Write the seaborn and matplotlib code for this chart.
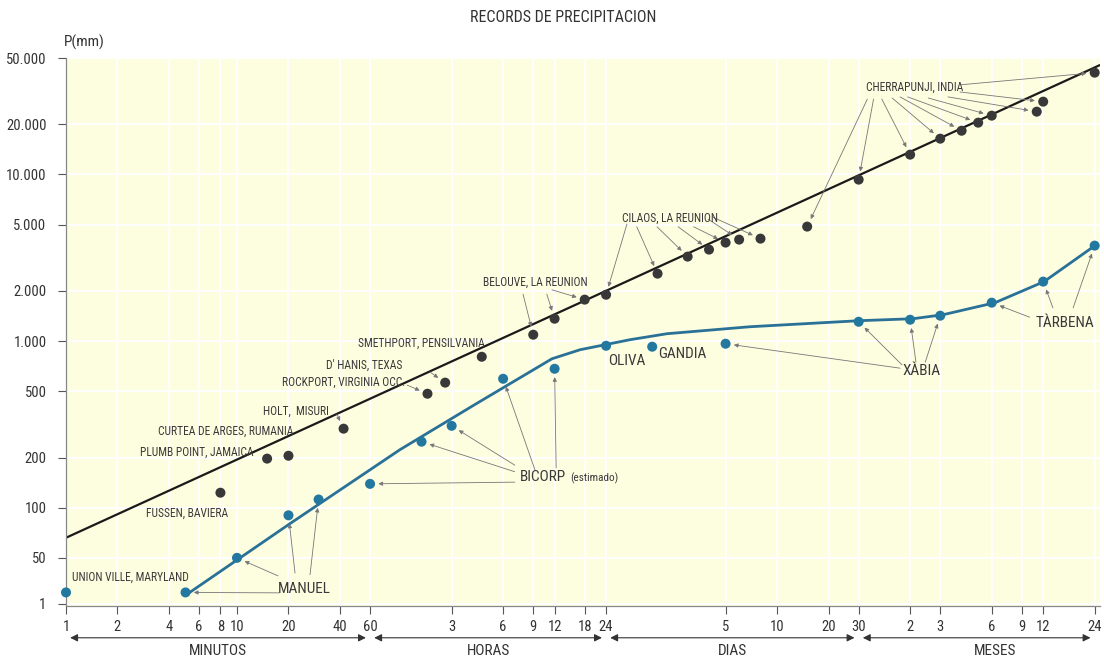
import matplotlib
matplotlib.use('Agg')
import matplotlib.pyplot as plt
import pandas as pd
import seaborn as sns

# duration in minutes, precipitation in mm
world_min = [8, 15, 20, 42, 130, 165, 270, 540, 720, 1080, 1440,
             2880, 4320, 5760, 7200, 8640, 11520, 21600,
             43200, 86400, 129600, 172800, 216000, 259200, 475200, 518400, 1036800]
world_mm = [123, 197, 205, 298, 483, 563, 805, 1092, 1362, 1773, 1897,
            2539, 3214, 3540, 3900, 4064, 4120, 4865,
            9310, 13150, 16400, 18300, 20460, 22540, 23820, 27350, 40830]

# Union Ville + records of the region (blue)
local_min = [1, 5, 10, 20, 30, 60, 120, 180, 360, 720, 1440, 2680, 7200,
             43200, 86400, 129600, 259200, 518400, 1036800]
local_mm = [31, 31, 50, 90, 112, 139, 249, 310, 594, 682, 937, 925, 964,
            1306, 1343, 1420, 1700, 2275, 3740]

# envelope of the local records
curve_min = [5.17, 20.4, 89.8, 250, 695, 1014, 1987, 3270, 10000, 43350,
             89800, 134500, 271000, 524000, 1040000]
curve_mm = [30.5, 80.2, 223, 420, 783, 887, 1019, 1107, 1219, 1325,
            1362, 1439, 1700, 2273, 3740]

# world envelope line
trend_min = [1, 1110000]
trend_mm = [66, 45300]

x_ticks = [1, 2, 4, 6, 8, 10, 20, 40, 60, 180, 360, 540, 720, 1080, 1440,
           7200, 14400, 28800, 43200, 86400, 129600, 259200, 388800, 518400, 1036800]
x_labels = ['1', '2', '4', '6', '8', '10', '20', '40', '60', '3', '6', '9', '12', '18', '24',
            '5', '10', '20', '30', '2', '3', '6', '9', '12', '24']
y_ticks = [26.5, 50, 100, 200, 500, 1000, 2000, 5000, 10000, 20000, 50000]
y_labels = ['1', '50', '100', '200', '500', '1.000', '2.000', '5.000', '10.000', '20.000', '50.000']

periods = ['MINUTOS', 'HORAS', 'DIAS', 'MESES']
period_edges = [1, 60, 1440, 43200, 1036800]
period_label_x = [7.75, 294, 7900, 271000]

world = pd.DataFrame({'min': world_min, 'mm': world_mm})
local = pd.DataFrame({'min': local_min, 'mm': local_mm})
curve = pd.DataFrame({'min': curve_min, 'mm': curve_mm})
trend = pd.DataFrame({'min': trend_min, 'mm': trend_mm})

sns.set_theme(style='ticks')
plt.rcParams['font.family'] = ['Roboto Condensed', 'DejaVu Sans']
plt.rcParams['font.stretch'] = 'condensed'

BLUE = '#22789f'
DARK = '#383838'
TXT = '#3a3a3a'
SMALL = 8.3
BIG = 11

fig = plt.figure(figsize=(11.04, 6.61), dpi=100)
ax = fig.add_axes([66 / 1104, 55 / 661, 1034 / 1104, 548 / 661])
ax.set_facecolor('#fdfde0')
ax.set_xscale('log')
ax.set_yscale('log')
ax.set_xlim(1, 1114000)
ax.set_ylim(25.7, 50000)

sns.lineplot(data=trend, x='min', y='mm', ax=ax, color='#1a1a1a', lw=1.6,
             sort=False, estimator=None)
sns.lineplot(data=curve, x='min', y='mm', ax=ax, color='#2a7197', lw=2.0,
             sort=False, estimator=None)
sns.scatterplot(data=world, x='min', y='mm', ax=ax, color=DARK, s=52,
                edgecolor='none', zorder=5, clip_on=False)
sns.scatterplot(data=local, x='min', y='mm', ax=ax, color=BLUE, s=52,
                edgecolor='none', zorder=5, clip_on=False)

ax.set_xticks(x_ticks)
ax.set_xticklabels(x_labels)
ax.set_yticks(y_ticks)
ax.set_yticklabels(y_labels)
ax.minorticks_off()
ax.tick_params(axis='both', labelsize=10.5, colors='#555', labelcolor='#333',
               length=6, width=0.8)
ax.tick_params(axis='x', pad=4)
ax.tick_params(axis='y', pad=8)
ax.grid(True, color='white', lw=1.4)
ax.set_xlabel('')
ax.set_ylabel('')
sns.despine(ax=ax)
for s in ['left', 'bottom']:
    ax.spines[s].set_color('#888')
    ax.spines[s].set_linewidth(0.9)

fig.text(0.5105, 0.973, 'RECORDS DE PRECIPITACION', ha='center', va='center',
         fontsize=11.5, color='#333')
fig.text(0.058, 0.936, 'P(mm)', ha='left', va='center', fontsize=11, color='#333')

# period arrows under the axis
xt = ax.get_xaxis_transform()
for name, a, b, lx in zip(periods, period_edges[:-1], period_edges[1:], period_label_x):
    ax.annotate('', xy=(b, -0.058), xytext=(a, -0.058), xycoords=xt, textcoords=xt,
                annotation_clip=False,
                arrowprops=dict(arrowstyle='<|-|>', color='#333', lw=0.8,
                                mutation_scale=11, shrinkA=3, shrinkB=3))
    ax.text(lx, -0.083, name, transform=xt, ha='center', va='center',
            fontsize=11, color='#333')

# labels with pointers: text, x, y, size, [(start x, start y, series, index)]
notes = [
    ('UNION VILLE, MARYLAND', 0.006, 0.053, SMALL, []),
    ('FUSSEN, BAVIERA', 0.077, 0.170, SMALL, []),
    ('PLUMB POINT, JAMAICA', 0.0716, 0.281, SMALL, []),
    ('CURTEA DE ARGES, RUMANIA', 0.089, 0.318, SMALL, []),
    ('HOLT,  MISURI', 0.1905, 0.356, SMALL, [(0.262, 0.350, 'w', 3)]),
    ('ROCKPORT, VIRGINIA OCC.', 0.209, 0.409, SMALL, [(0.330, 0.403, 'w', 4)]),
    ("D' HANIS, TEXAS", 0.2515, 0.440, SMALL, [(0.352, 0.427, 'w', 5)]),
    ('SMETHPORT, PENSILVANIA', 0.2824, 0.480, SMALL, []),
    ('BELOUVE, LA REUNION', 0.403, 0.591, SMALL,
     [(0.442, 0.569, 'w', 7), (0.465, 0.569, 'w', 8), (0.470, 0.577, 'w', 9)]),
    ('CILAOS, LA REUNION', 0.538, 0.708, SMALL,
     [(0.5425, 0.697, 'w', 10), (0.552, 0.692, 'w', 11), (0.5716, 0.692, 'w', 12),
      (0.592, 0.692, 'w', 13), (0.607, 0.692, 'w', 14), (0.621, 0.706, 'w', 15),
      (0.625, 0.710, 'w', 16)]),
    ('CHERRAPUNJI, INDIA', 0.774, 0.947, SMALL,
     [(0.775, 0.925, 'w', 17), (0.781, 0.925, 'w', 18), (0.789, 0.925, 'w', 19),
      (0.799, 0.927, 'w', 20), (0.8066, 0.929, 'w', 21), (0.814, 0.929, 'w', 22),
      (0.834, 0.927, 'w', 23), (0.853, 0.929, 'w', 24), (0.8646, 0.938, 'w', 25),
      (0.8646, 0.951, 'w', 26)]),
    ('MANUEL', 0.205, 0.031, BIG,
     [(0.206, 0.024, 'l', 1), (0.205, 0.055, 'l', 2), (0.2215, 0.060, 'l', 3),
      (0.236, 0.057, 'l', 4)]),
    ('BICORP', 0.439, 0.235, BIG,
     [(0.434, 0.226, 'l', 5), (0.434, 0.245, 'l', 6), (0.434, 0.257, 'l', 7),
      (0.4536, 0.248, 'l', 8), (0.474, 0.252, 'l', 9)]),
    ('OLIVA', 0.524, 0.447, BIG, []),
    ('GANDIA', 0.5725, 0.460, BIG, []),
    ('XÀBIA', 0.8085, 0.429, BIG,
     [(0.8066, 0.434, 'l', 12), (0.8085, 0.440, 'l', 13), (0.822, 0.445, 'l', 14),
      (0.831, 0.445, 'l', 15)]),
    ('TÀRBENA', 0.938, 0.516, BIG,
     [(0.932, 0.527, 'l', 16), (0.9545, 0.544, 'l', 17), (0.974, 0.544, 'l', 18)]),
]

placed = {}
for text, tx, ty, size, arrows in notes:
    placed[text] = ax.text(tx, ty, text, transform=ax.transAxes, fontsize=size,
                           color=TXT, ha='left', va='center', zorder=6)
    for sx, sy, series, i in arrows:
        df = world if series == 'w' else local
        ax.annotate('', xy=(df['min'][i], df['mm'][i]), xycoords='data',
                    xytext=(sx, sy), textcoords='axes fraction',
                    arrowprops=dict(arrowstyle='-|>', color='#777', lw=0.6,
                                    mutation_scale=6, shrinkA=0, shrinkB=6))

# small note right after BICORP
ax.annotate('(estimado)', xy=(1, 0.5), xycoords=placed['BICORP'], xytext=(3, -1),
            textcoords='offset points', ha='left', va='center', fontsize=8,
            color=TXT, zorder=6)

fig.savefig('out.png', dpi=100, facecolor='white')
